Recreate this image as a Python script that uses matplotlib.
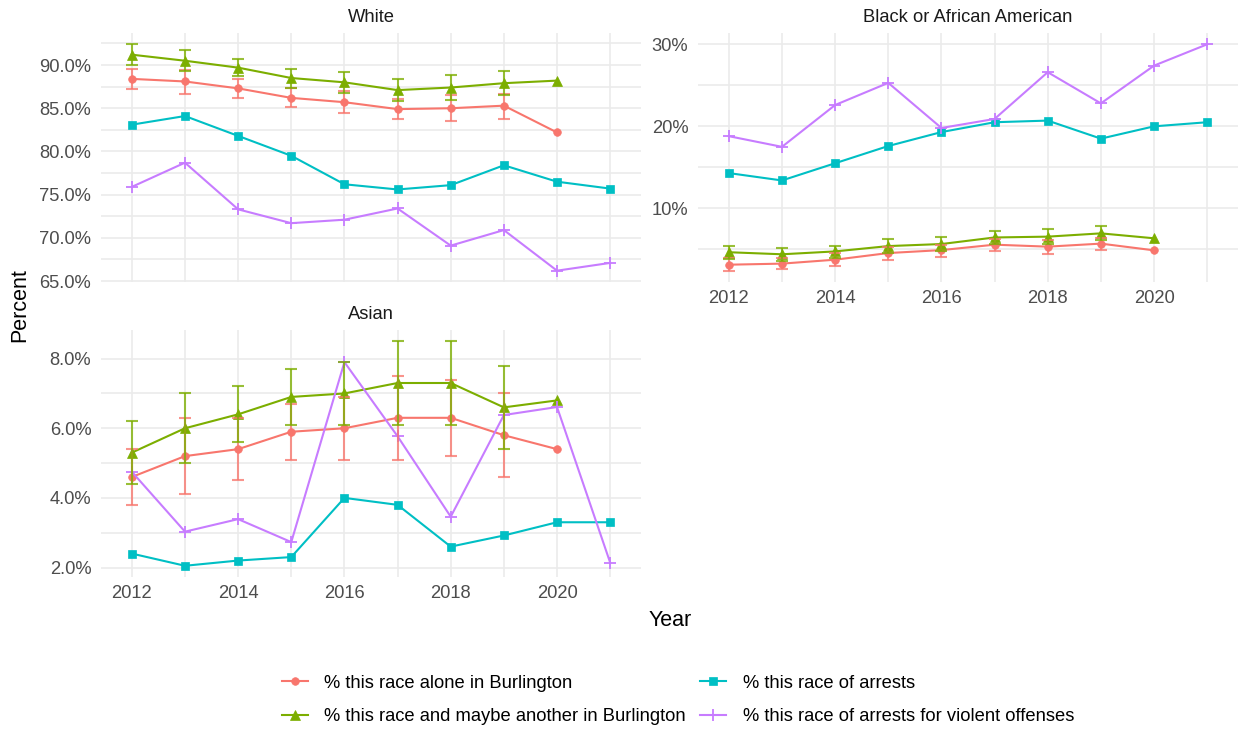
import matplotlib
matplotlib.use("Agg")
import matplotlib.pyplot as plt
from matplotlib.ticker import FuncFormatter, MultipleLocator
import numpy as np

plt.rcParams["font.family"] = ["Liberation Sans", "DejaVu Sans"]

years = [2012, 2013, 2014, 2015, 2016, 2017, 2018, 2019, 2020, 2021]
census_years = years[:9]
moe_years = years[:8]

# White
white_alone = [88.4, 88.1, 87.3, 86.2, 85.7, 84.9, 85.0, 85.3, 82.2]
white_alone_lo = [87.2, 86.7, 86.2, 85.2, 84.4, 83.7, 83.5, 83.8]
white_alone_hi = [89.6, 89.4, 88.4, 87.3, 87.0, 86.1, 86.5, 86.7]
white_any = [91.2, 90.5, 89.7, 88.5, 88.0, 87.1, 87.4, 87.9, 88.2]
white_any_lo = [90.0, 89.3, 88.7, 87.3, 86.8, 85.8, 85.9, 86.5]
white_any_hi = [92.4, 91.8, 90.7, 89.6, 89.2, 88.4, 88.8, 89.3]
white_arrests = [83.1, 84.1, 81.8, 79.5, 76.2, 75.6, 76.1, 78.4, 76.5, 75.7]
white_violent = [75.9, 78.7, 73.3, 71.7, 72.1, 73.4, 69.1, 70.9, 66.2, 67.1]

# Black or African American
black_alone = [3.13, 3.26, 3.74, 4.55, 4.91, 5.57, 5.33, 5.70, 4.88]
black_alone_lo = [2.40, 2.60, 3.00, 3.70, 4.02, 4.84, 4.43, 4.96]
black_alone_hi = [3.90, 3.95, 4.50, 5.24, 5.49, 6.22, 6.18, 6.38]
black_any = [4.65, 4.40, 4.75, 5.40, 5.65, 6.45, 6.55, 6.95, 6.35]
black_any_lo = [3.82, 3.57, 3.98, 4.60, 4.84, 5.65, 5.65, 6.14]
black_any_hi = [5.45, 5.12, 5.45, 6.22, 6.55, 7.28, 7.44, 7.80]
black_arrests = [14.3, 13.4, 15.5, 17.6, 19.3, 20.5, 20.7, 18.5, 20.0, 20.5]
black_violent = [18.8, 17.5, 22.6, 25.3, 19.8, 20.9, 26.6, 22.8, 27.4, 30.0]

# Asian
asian_alone = [4.6, 5.2, 5.4, 5.9, 6.0, 6.3, 6.3, 5.8, 5.4]
asian_alone_lo = [3.8, 4.1, 4.5, 5.1, 5.1, 5.1, 5.2, 4.6]
asian_alone_hi = [5.4, 6.3, 6.3, 6.7, 6.9, 7.5, 7.4, 7.0]
asian_any = [5.3, 6.0, 6.4, 6.9, 7.0, 7.3, 7.3, 6.6, 6.8]
asian_any_lo = [4.4, 5.0, 5.6, 6.1, 6.1, 6.1, 6.1, 5.4]
asian_any_hi = [6.2, 7.0, 7.2, 7.7, 7.9, 8.5, 8.5, 7.8]
asian_arrests = [2.4, 2.05, 2.2, 2.3, 4.0, 3.8, 2.6, 2.92, 3.3, 3.3]
asian_violent = [4.75, 3.03, 3.39, 2.73, 7.9, 5.77, 3.46, 6.38, 6.61, 2.14]

series_labels = [
    "% this race alone in Burlington",
    "% this race and maybe another in Burlington",
    "% this race of arrests",
    "% this race of arrests for violent offenses",
]
colors = ["#F8766D", "#7CAE00", "#00BFC4", "#C77CFF"]
markers = [("o", 5.5), ("^", 6.8), ("s", 5.5), ("+", 9)]

W, H = 1239, 729
fig = plt.figure(figsize=(W / 100, H / 100), dpi=100)


def panel(left, top, right, bottom):
    return fig.add_axes([left / W, 1 - bottom / H, (right - left) / W, (bottom - top) / H])


def draw(ax, title, alone, alone_lo, alone_hi, anyr, any_lo, any_hi, arrests, violent,
         major, minor, fmt, show_x):
    vals = [alone, anyr, arrests, violent]
    xs = [census_years, census_years, years, years]
    handles = []
    for i, (x, y) in enumerate(zip(xs, vals)):
        m, ms = markers[i]
        h, = ax.plot(x, y, color=colors[i], lw=1.5, marker=m, ms=ms,
                     mew=1.3 if m == "+" else 0.5, zorder=3, label=series_labels[i])
        handles.append(h)
    # margin-of-error bars for the census estimates
    for i, (v, lo, hi) in enumerate([(alone, alone_lo, alone_hi), (anyr, any_lo, any_hi)]):
        v = np.array(v[:len(lo)])
        err = [v - np.array(lo), np.array(hi) - v]
        ax.errorbar(moe_years, v, yerr=err, fmt="none", ecolor=colors[i], elinewidth=1.5,
                    capsize=4.6, capthick=1.5, alpha=0.78, zorder=4)

    ax.set_xlim(2011.42, 2021.58)
    ax.xaxis.set_major_locator(MultipleLocator(2))
    ax.xaxis.set_minor_locator(MultipleLocator(1))
    ax.yaxis.set_major_locator(MultipleLocator(major))
    ax.yaxis.set_minor_locator(MultipleLocator(minor))
    ax.yaxis.set_major_formatter(FuncFormatter(lambda v, p: fmt.format(v) + "%"))
    ax.grid(which="both", color="#EBEBEB", lw=1.2)
    ax.set_axisbelow(True)
    for s in ax.spines.values():
        s.set_visible(False)
    ax.tick_params(which="both", length=0, labelsize=13.2, labelcolor="#4D4D4D")
    ax.tick_params(axis="y", pad=7)
    ax.tick_params(axis="x", pad=6, labelbottom=show_x)
    ax.set_title(title, fontsize=13.2, color="#1A1A1A", pad=8)
    return handles


ax_w = panel(101, 33, 641, 282)
ax_b = panel(698, 33, 1238, 282)
ax_a = panel(101, 330, 641, 577)

handles = draw(ax_w, "White", white_alone, white_alone_lo, white_alone_hi,
               white_any, white_any_lo, white_any_hi, white_arrests, white_violent,
               5, 2.5, "{:.1f}", False)
draw(ax_b, "Black or African American", black_alone, black_alone_lo, black_alone_hi,
     black_any, black_any_lo, black_any_hi, black_arrests, black_violent,
     10, 5, "{:.0f}", True)
draw(ax_a, "Asian", asian_alone, asian_alone_lo, asian_alone_hi,
     asian_any, asian_any_lo, asian_any_hi, asian_arrests, asian_violent,
     2, 1, "{:.1f}", True)

fig.text(20 / W, 1 - 305 / H, "Percent", rotation=90, fontsize=15.5,
         ha="center", va="center")
fig.text(670 / W, 1 - 620 / H, "Year", fontsize=15.5, ha="center", va="center")

fig.legend(handles=handles, loc="center", bbox_to_anchor=(678 / W, 1 - 700 / H),
           ncol=2, frameon=False, fontsize=13.2, handlelength=1.4,
           handletextpad=0.9, columnspacing=0.8, labelspacing=0.9)

fig.savefig("out.png", dpi=100, facecolor="white")
